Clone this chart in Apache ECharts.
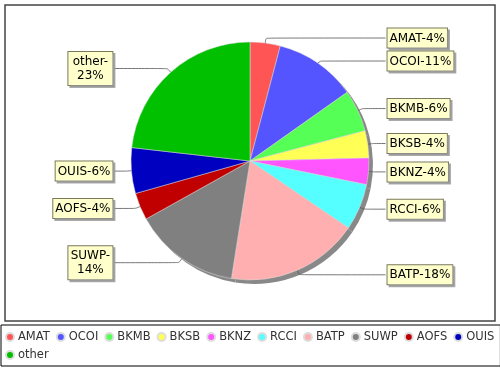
<!DOCTYPE html>
<html>
<head>
<meta charset="utf-8">
<script src="https://cdn.jsdelivr.net/npm/echarts@6/dist/echarts.min.js"></script>
<style>
html,body{margin:0;padding:0;background:#fff;}
#chart{width:500px;height:370px;}
</style>
</head>
<body>
<div id="chart"></div>
<script>
// Data
const categories = ['AMAT', 'OCOI', 'BKMB', 'BKSB', 'BKNZ', 'RCCI', 'BATP', 'SUWP', 'AOFS', 'OUIS', 'other'];
const values = [4.1, 11.1, 5.7, 3.7, 3.6, 6.3, 18.0, 14.4, 3.7, 6.2, 23.2];
const colors = ['#ff5555', '#5555ff', '#55ff55', '#ffff55', '#ff55ff', '#55ffff', '#ffafaf', '#808080', '#c00000', '#0000c0', '#00c000'];
// labels that the reference wraps onto two lines
const wrappedLabels = ['other', 'SUWP'];

const chart = echarts.init(document.getElementById('chart'), null, {renderer: 'canvas'});
const FONT = 'DejaVu Sans';
const pieData = categories.map((c, i) => ({name: c, value: values[i]}));

chart.setOption({
  backgroundColor: '#ffffff',
  animation: false,
  graphic: [{
    type: 'rect',
    shape: {x: 5, y: 5, width: 490, height: 316},
    style: {fill: 'none', stroke: '#444444', lineWidth: 1.5},
    z: -1, silent: true
  }],
  legend: {
    data: categories,
    left: 1,
    top: 325,
    width: 496,
    orient: 'horizontal',
    icon: 'circle',
    itemWidth: 8,
    itemHeight: 8,
    itemGap: 6,
    padding: [6, 6, 5, 4],
    borderColor: '#000000',
    borderWidth: 1,
    backgroundColor: '#ffffff',
    textStyle: {fontFamily: FONT, fontSize: 11.5, color: '#333333', padding: [0, 0, 0, -1]}
  },
  series: [{
    type: 'pie',
    z: 3,
    center: [250, 161],
    radius: 119,
    startAngle: 90,
    clockwise: true,
    avoidLabelOverlap: true,
    color: colors,
    data: pieData,
    itemStyle: {
      borderWidth: 0.5,
      borderColor: '#dddddd'
    },
    emphasis: {disabled: true},
    label: {
      show: true,
      position: 'outer',
      alignTo: 'labelLine',
      distanceToLabelLine: 2,
      fontFamily: FONT,
      fontSize: 12,
      color: '#000000',
      backgroundColor: '#ffffcc',
      borderColor: '#7a7a5a',
      borderWidth: 1,
      padding: [3, 2, 2, 2],
      lineHeight: 14,
      shadowColor: 'rgba(150,150,150,0.8)',
      shadowOffsetX: 2,
      shadowOffsetY: 2,
      shadowBlur: 0,
      rich: {
        c: {fontFamily: FONT, fontSize: 12, color: '#000000', lineHeight: 14, width: 40, align: 'center'}
      },
      formatter: function (p) {
        const pct = Math.round(p.percent) + '%';
        if (wrappedLabels.indexOf(p.name) >= 0) return '{c|' + p.name + '-}\n{c|' + pct + '}';
        return p.name + '-' + pct;
      }
    },
    labelLine: {
      show: true,
      length: 5,
      length2: 12,
      smooth: 0.2,
      lineStyle: {color: '#555555', width: 0.8}
    }
  }, {
    // drop shadow of the pie, drawn from the same values
    type: 'pie',
    z: 1,
    silent: true,
    center: [254, 165],
    radius: 119,
    startAngle: 90,
    clockwise: true,
    data: pieData,
    itemStyle: {color: '#888888'},
    label: {show: false},
    labelLine: {show: false},
    emphasis: {disabled: true},
    tooltip: {show: false}
  }]
});
</script>
</body>
</html>
